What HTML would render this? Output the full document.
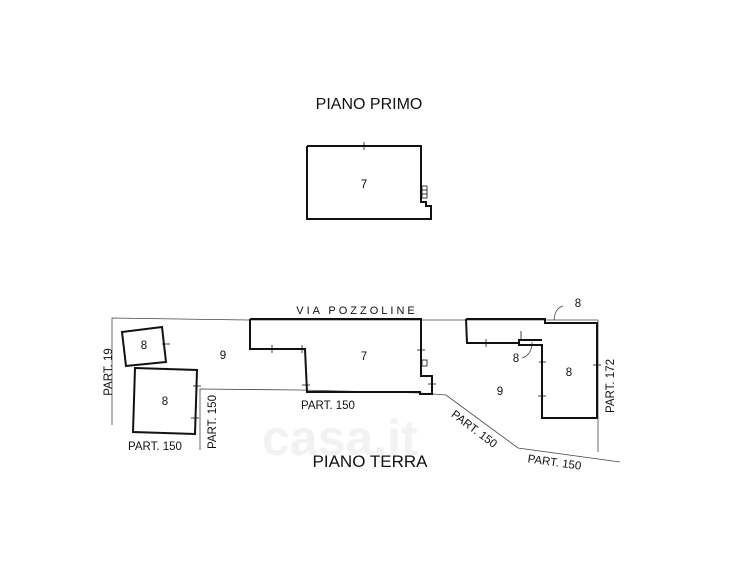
<!DOCTYPE html>
<html><head><style>body{margin:0;background:#fff}svg{display:block}</style></head><body>
<svg width="732" height="584" viewBox="0 0 732 584" xmlns="http://www.w3.org/2000/svg" font-family="Liberation Sans, sans-serif">
<rect width="732" height="584" fill="#fff"/>
<!-- watermark -->
<text x="262" y="455" font-size="50" font-weight="bold" fill="#f2f2f2">casa.it</text>
<text x="369" y="109" font-size="16" text-anchor="middle" fill="#111">PIANO PRIMO</text>
<g fill="none" stroke="#111" stroke-width="2">
<polyline points="307,146 421,146 421,202 426,202 426,206 431,206 431,219 307,219 307,146"/>
</g>
<g stroke="#111" stroke-width="0.8" fill="none">
<line x1="364" y1="142" x2="364" y2="150"/>
<rect x="422" y="186" width="5" height="12"/>
<line x1="422" y1="190" x2="427" y2="190"/><line x1="422" y1="194" x2="427" y2="194"/>
</g>
<text x="364" y="188" font-size="11.5" text-anchor="middle">7</text>
<g fill="none" stroke="#444" stroke-width="0.8">
<polyline points="112,425 112,318 248,320 598,320"/>
<polyline points="200,450 200,389 300,390 420,393 446,395 518,448 620,462"/>
<line x1="598" y1="320" x2="598" y2="452"/>
<path d="M563,306 Q555,308 554,320" />
<path d="M522,358 Q532,355 532,342"/>
</g>
<g fill="none" stroke="#111" stroke-width="2">
<polyline points="250,319 421,319 421,376 432,376 432,394 420,394 420,392 307,392 305,349 250,349 250,319"/>
<polygon points="122,332 162,327 166,362 126,366"/>
<polygon points="135,368 197,370 195,434 133,432"/>
<polyline points="466,319 545,319 545,323 597,323 597,418 542,418 542,345 519,345 519,340 542,340"/>
<polyline points="519,343 467,343 466,319"/>
</g>
<g stroke="#111" stroke-width="0.8">
<line x1="272" y1="345" x2="272" y2="353"/><line x1="302" y1="345" x2="302" y2="353"/>
<line x1="302" y1="385" x2="310" y2="385"/>
<line x1="417" y1="350" x2="425" y2="350"/><line x1="428" y1="384" x2="436" y2="384"/>
<line x1="162" y1="344" x2="170" y2="344"/><line x1="193" y1="386" x2="201" y2="386"/><line x1="191" y1="418" x2="199" y2="418"/>
<line x1="486" y1="339" x2="486" y2="347"/><line x1="521" y1="331" x2="521" y2="339"/>
<line x1="539" y1="362" x2="546" y2="362"/><line x1="538" y1="396" x2="546" y2="396"/><line x1="593" y1="365" x2="601" y2="365"/>
<rect x="422" y="360" width="5" height="6" fill="none"/>
</g>
<g font-size="11.5" fill="#111">
<text x="357" y="314" font-size="11" text-anchor="middle" letter-spacing="3">VIA POZZOLINE</text>
<text x="144" y="349" text-anchor="middle">8</text>
<text x="165" y="405" text-anchor="middle">8</text>
<text x="223" y="359" text-anchor="middle">9</text>
<text x="364" y="360" text-anchor="middle">7</text>
<text x="516" y="362" text-anchor="middle">8</text>
<text x="569" y="376" text-anchor="middle">8</text>
<text x="500" y="395" text-anchor="middle">9</text>
<text x="578" y="307" text-anchor="middle">8</text>
<text x="328" y="409" text-anchor="middle">PART. 150</text>
<text x="155" y="450" text-anchor="middle">PART. 150</text>
<text transform="translate(112,372) rotate(-90)" text-anchor="middle">PART. 19</text>
<text transform="translate(216,422) rotate(-90)" text-anchor="middle">PART. 150</text>
<text transform="translate(614,386) rotate(-90)" text-anchor="middle">PART. 172</text>
<text transform="translate(472,432) rotate(37)" text-anchor="middle">PART. 150</text>
<text transform="translate(554,466) rotate(8)" text-anchor="middle">PART. 150</text>
</g>
<text x="370" y="467" font-size="17" text-anchor="middle" fill="#111">PIANO TERRA</text>
</svg>
</body></html>
